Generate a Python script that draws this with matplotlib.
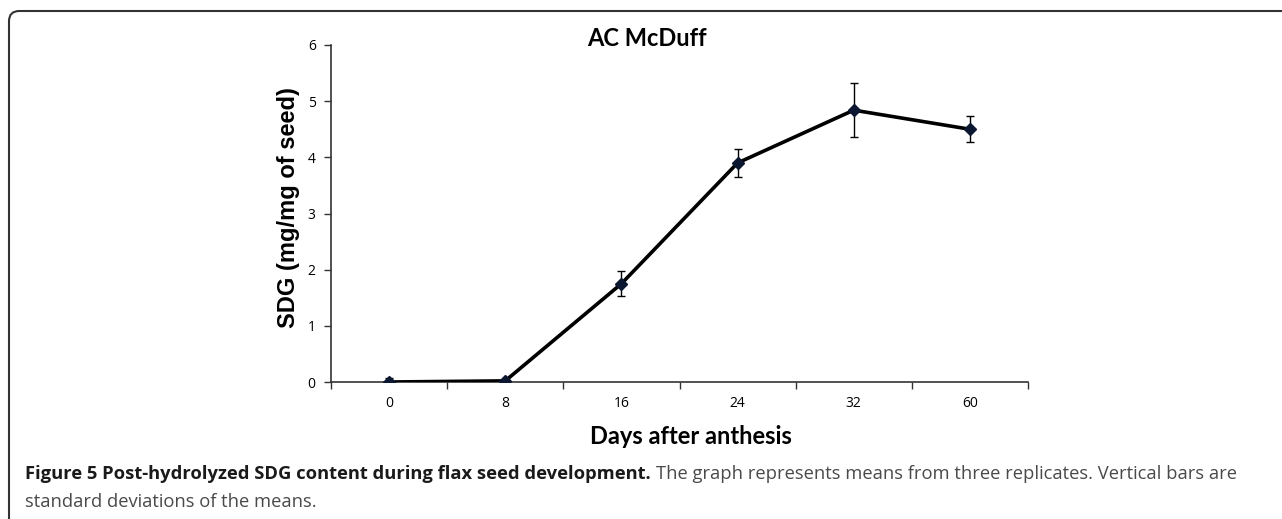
import matplotlib
matplotlib.use("Agg")
import matplotlib.pyplot as plt
from matplotlib.patches import FancyBboxPatch
import numpy as np

# ---------------------------------------------------------------------------
# Data
# ---------------------------------------------------------------------------
days = ["0", "8", "16", "24", "32", "60"]
sdg_mean = [0.0, 0.02, 1.75, 3.9, 4.84, 4.5]
sdg_sd = [0.08, 0.02, 0.22, 0.25, 0.48, 0.23]
y_ticks = [0, 1, 2, 3, 4, 5, 6]

W, H = 1282, 519
fig = plt.figure(figsize=(W / 100, H / 100), dpi=100)

# rounded frame around the whole figure (runs off right and bottom edges)
frame = FancyBboxPatch((9 / W, -0.2), 1.3, (H - 11) / H + 0.2,
                       boxstyle="round,pad=0,rounding_size=0.008",
                       transform=fig.transFigure, fill=False,
                       edgecolor="#333333", linewidth=1.5,
                       mutation_aspect=W / H)
fig.patches.append(frame)

ax = fig.add_axes([331 / W, 1 - 382 / H, 697 / W, 337 / H])
x = np.arange(len(days))

ax.errorbar(x, sdg_mean, yerr=sdg_sd, fmt="none", ecolor="black",
            elinewidth=1.0, capsize=3, capthick=1.0, zorder=2)
ax.plot(x, sdg_mean, color="black", linewidth=2.6, zorder=3)
ax.plot(x, sdg_mean, linestyle="none", marker="D", markersize=6,
        color="#0b1730", zorder=4)

ax.set_xlim(-0.5, len(days) - 0.5)
ax.set_ylim(0, 6)
ax.set_yticks(y_ticks)
ax.set_yticklabels([str(v) for v in y_ticks], fontsize=10, family="Open Sans")

# Excel-style category axis: tick marks between categories, labels centred
ax.set_xticks(np.arange(-0.5, len(days), 1.0))
ax.set_xticklabels([])
ax.set_xticks(x, minor=True)
ax.set_xticklabels(days, minor=True, fontsize=10, family="Open Sans")
ax.tick_params(axis="x", which="major", direction="out", length=5,
               width=1.0, color="#333333")
ax.tick_params(axis="x", which="minor", length=0, pad=10)
ax.tick_params(axis="y", direction="out", length=5, width=1.0,
               color="#333333", pad=6)

for side in ("top", "right"):
    ax.spines[side].set_visible(False)
for side in ("left", "bottom"):
    ax.spines[side].set_color("#333333")
    ax.spines[side].set_linewidth(1.2)

fig.text(288 / W, 1 - 208 / H, "SDG (mg/mg of seed)", rotation=90,
         fontsize=17, fontweight="bold", family="Liberation Sans",
         ha="center", va="center")
fig.text(691 / W, 1 - 437 / H, "Days after anthesis", fontsize=17,
         fontweight="bold", family="Lato", ha="center", va="center")
fig.text(647 / W, 1 - 38 / H, "AC McDuff", fontsize=17,
         fontweight="bold", family="Lato", ha="center", va="center")

# caption
cap_y1 = 1 - 479 / H
cap_y2 = 1 - 507 / H
t1 = fig.text(25 / W, cap_y1,
              "Figure 5 Post-hydrolyzed SDG content during flax seed development.",
              fontsize=13.2, fontweight="bold", family="Open Sans",
              color="#1a1a1a", va="baseline")
fig.canvas.draw()
bb = t1.get_window_extent()
fig.text((bb.x1 + 5) / W, cap_y1,
         "The graph represents means from three replicates. Vertical bars are",
         fontsize=13.2, family="Open Sans", color="#4a4a4a", va="baseline")
fig.text(25 / W, cap_y2, "standard deviations of the means.",
         fontsize=13.2, family="Open Sans", color="#4a4a4a", va="baseline")

fig.savefig("out.png", dpi=100, facecolor="white")
